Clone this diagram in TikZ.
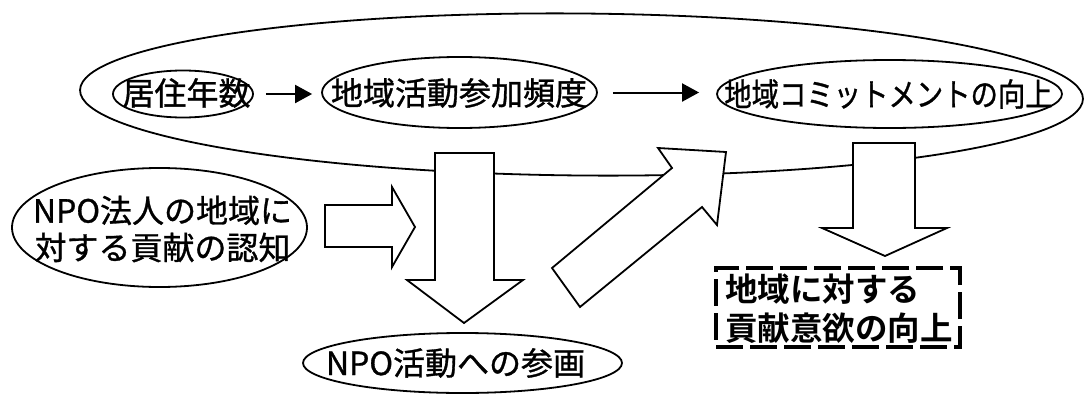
\documentclass[tikz,border=0pt]{standalone}
\usepackage{fontspec}
\usepackage{graphicx}
\usetikzlibrary{shapes.geometric,arrows.meta}
\newfontfamily\jp{Noto Sans CJK JP}[FakeBold=1]
\newfontfamily\jpbold{Noto Sans CJK JP Bold}
\begin{document}
\begin{tikzpicture}[x=1pt,y=-1pt,
  ell/.style={ellipse,draw,line width=1.8pt,inner sep=0pt},
  txt/.style={font=\jp\fontsize{32}{37}\selectfont,inner sep=0pt},
  blockarrow/.style={draw,line width=1.8pt,fill=white,line join=miter},
  flow/.style={line width=2pt,-{Triangle[length=17pt,width=18pt]}},
  goalbox/.style={draw,line width=4.5pt,dash pattern=on 27pt off 7pt},
]
\useasboundingbox (0,0) rectangle (1085,399);
% outer ellipse
\node[ell,rotate=-0.5,minimum width=1003pt,minimum height=162pt] (outer) at (581.5,94.5) {};
% inner chain
\node[ell,minimum width=140pt,minimum height=47pt] (years) at (183,94) {};
\node[txt] (yearst) at (186.5,93) {居住年数};
\node[ell,minimum width=275pt,minimum height=71pt] (freq) at (459.5,92.5) {};
\node[txt] (freqt) at (459,93) {地域活動参加頻度};
\node[ell,minimum width=345pt,minimum height=68pt] (comm) at (889.5,94) {};
\node[txt] (commt) at (888.5,94) {\scalebox{0.855}[1]{地域コミットメントの向上}};
\draw[flow,shorten <=12pt,shorten >=9pt] (years.east) -- (years.east -| freq.west);
\draw[flow,shorten <=15pt,shorten >=17pt] (freq.east) -- (freq.east -| comm.west);
% lower nodes
\node[ell,minimum width=295pt,minimum height=119pt] (recog) at (159.5,227.5) {};
\node[txt,align=center] (recogt) at (162.5,229) {NPO法人の地域に\\対する貢献の認知};
\node[ell,minimum width=319pt,minimum height=60pt] (plan) at (462.5,363) {};
\node[txt] (plant) at (455.5,363) {NPO活動への参画};
% block arrows
\draw[blockarrow] (325,205) -- (392,205) -- (392,187) -- (415,227) -- (392,267) -- (392,247) -- (325,247) -- cycle;
\draw[blockarrow] (435,153) -- (494,153) -- (494,280) -- (523,280) -- (464,323) -- (407,280) -- (435,280) -- cycle;
\draw[blockarrow] (552,268) -- (672,168) -- (658,148) -- (726,152) -- (717,225) -- (702,207) -- (580,307) -- cycle;
\draw[blockarrow] (853,143) -- (915,143) -- (915,228) -- (947,228) -- (885,256) -- (822,228) -- (853,228) -- cycle;
% goal
\node[goalbox,minimum width=244pt,minimum height=79pt,inner sep=0pt] (goal) at (838,307.5) {};
\node[txt,font=\jpbold\fontsize{32.5}{39}\selectfont,align=left,anchor=west] (goalt) at (725,308.5) {地域に対する\\貢献意欲の向上};
\end{tikzpicture}
\end{document}
